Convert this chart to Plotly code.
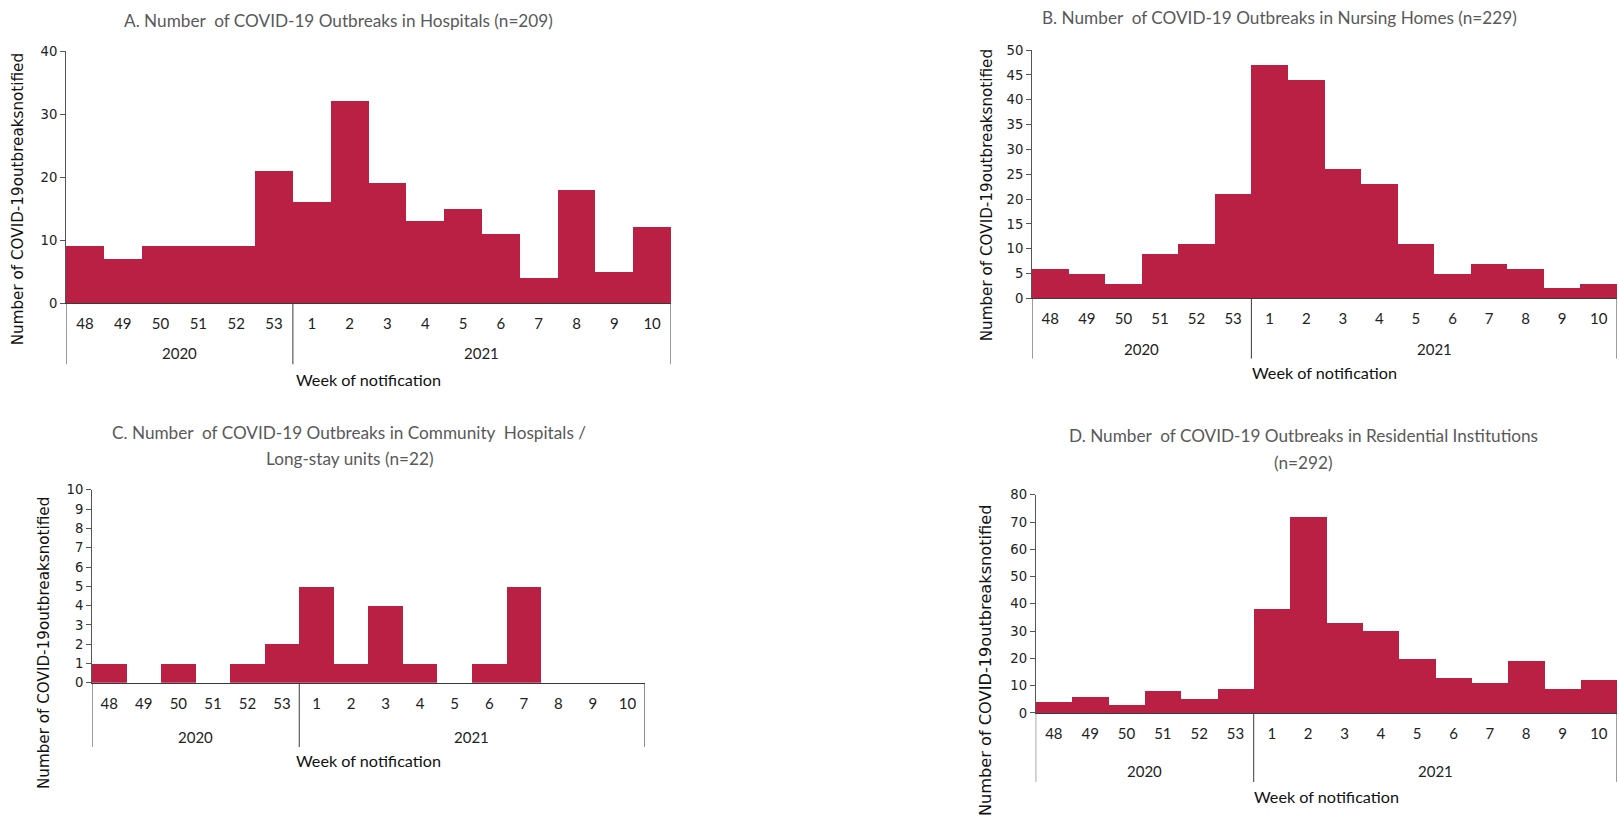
import plotly.graph_objects as go

# ---------------- data ----------------
weeks = ["48", "49", "50", "51", "52", "53", "1", "2", "3", "4", "5", "6", "7", "8", "9", "10"]
years = ["2020"] * 6 + ["2021"] * 10

hospitals = [9, 7, 9, 9, 9, 21, 16, 32, 19, 13, 15, 11, 4, 18, 5, 12]
nursing_homes = [6, 5, 3, 9, 11, 21, 47, 44, 26, 23, 11, 5, 7, 6, 2, 3]
community_hospitals = [1, 0, 1, 0, 1, 2, 5, 1, 4, 1, 0, 1, 5, 0, 0, 0]
residential = [4, 6, 3, 8, 5, 9, 38, 72, 33, 30, 20, 13, 11, 19, 9, 12]

titles = [
    ["A. Number  of COVID-19 Outbreaks in Hospitals (n=209)"],
    ["B. Number  of COVID-19 Outbreaks in Nursing Homes (n=229)"],
    ["C. Number  of COVID-19 Outbreaks in Community  Hospitals /", "Long-stay units (n=22)"],
    ["D. Number  of COVID-19 Outbreaks in Residential Institutions", "(n=292)"],
]
y_title = "Number of COVID-19outbreaksnotified"
x_title = "Week of notification"

# ---------------- layout geometry (pixels) ----------------
W, H = 1619, 818
BAR = "#B92044"


def cy(t):
    # vertical pixel position as measured -> layout pixel
    return (t - 8) / 0.98


def py(t):
    return 1 - cy(t) / H


panels = [
    dict(vals=hospitals, box=(66, 671, 52, 303.7), ymax=40, dtick=10,
         title_xy=(338, [21]), ytitle=(18, 200, 15.2),
         offs=(61, 50, 76)),
    dict(vals=nursing_homes, box=(1032, 1617, 51, 299), ymax=50, dtick=5,
         title_xy=(1279, [18]), ytitle=(987, 196, 15.2),
         offs=(60, 50, 74)),
    dict(vals=community_hospitals, box=(92, 644.7, 490, 682.7), ymax=10, dtick=1,
         title_xy=(349, [433, 459]), ytitle=(44, 643, 15.2),
         offs=(64, 54, 78)),
    dict(vals=residential, box=(1035.7, 1617, 495, 712.7), ymax=80, dtick=10,
         title_xy=(1303, [436, 463]), ytitle=(985, 660, 16.2),
         offs=(69, 58, 83)),
]

fig = go.Figure()
annotations = []
shapes = []

n = len(weeks)
idx = list(range(n))

# year groups (first and last index of each year)
year_groups = []
for i, y in enumerate(years):
    if not year_groups or year_groups[-1][0] != y:
        year_groups.append([y, i, i])
    else:
        year_groups[-1][2] = i

for k, p in enumerate(panels):
    sfx = "" if k == 0 else str(k + 1)
    x0, x1, yt, yb = p["box"]

    fig.add_trace(go.Bar(
        x=idx, y=p["vals"], width=1.0, marker_color=BAR,
        marker_line_width=0, xaxis="x" + sfx, yaxis="y" + sfx,
        showlegend=False,
    ))

    fig.layout["xaxis" + sfx] = dict(
        domain=[x0 / W, x1 / W], range=[-0.5, n - 0.5], anchor="y" + sfx,
        tickmode="array", tickvals=idx, ticktext=weeks, ticks="",
        showgrid=False, zeroline=False, showline=True, linecolor="#3a3a3a", linewidth=1,
        tickfont=dict(family="Lato", size=15, color="#222"), ticklabelstandoff=7,
        fixedrange=True,
    )
    fig.layout["yaxis" + sfx] = dict(
        domain=[py(yb), py(yt)], range=[0, p["ymax"]], anchor="x" + sfx,
        dtick=p["dtick"], tick0=0, ticks="outside", ticklen=5, tickcolor="#555",
        showgrid=False, zeroline=False, showline=True, linecolor="#555", linewidth=1,
        tickfont=dict(family="DejaVu Sans", size=13.2, color="#222"),
        fixedrange=True,
    )

    line_off, year_off, title_off = p["offs"]
    # divider lines at the year boundaries
    bounds = [year_groups[0][1] - 0.5] + [g[2] + 0.5 for g in year_groups]
    for b in bounds:
        shapes.append(dict(type="line", xref="x" + sfx, yref="paper",
                           x0=b, x1=b, y0=py(yb), y1=py(yb + line_off),
                           line=dict(color="#3a3a3a", width=1)))
    # year labels
    for yname, i0, i1 in year_groups:
        annotations.append(dict(text=yname, xref="x" + sfx, yref="paper",
                                x=(i0 + i1) / 2, y=py(yb + year_off),
                                showarrow=False, yanchor="middle",
                                font=dict(family="Lato", size=15, color="#222")))
    # x title
    annotations.append(dict(text=x_title, xref="x" + sfx, yref="paper",
                            x=(n - 1) / 2, y=py(yb + title_off),
                            showarrow=False, yanchor="middle",
                            font=dict(family="Lato", size=16.2, color="#111")))
    # y title
    tx, ty, fs = p["ytitle"]
    annotations.append(dict(text=y_title, xref="paper", yref="paper",
                            x=tx / W, y=py(ty), textangle=-90,
                            showarrow=False, xanchor="center", yanchor="middle",
                            font=dict(family="DejaVu Sans", size=fs, color="#111")))
    # panel titles
    cx, ys = p["title_xy"]
    for line, ypx in zip(titles[k], ys):
        annotations.append(dict(text=line, xref="paper", yref="paper",
                                x=cx / W, y=py(ypx),
                                showarrow=False, xanchor="center", yanchor="middle",
                                font=dict(family="Lato", size=17.2, color="#595959")))

fig.update_layout(
    width=W, height=H, margin=dict(l=0, r=0, t=0, b=0),
    paper_bgcolor="white", plot_bgcolor="white",
    bargap=0, annotations=annotations, shapes=shapes,
)

fig.write_html(
    "out.html",
    config={"displayModeBar": False},
    post_script="document.documentElement.style.margin='0';"
                "document.body.style.margin='0';"
                "document.body.style.overflow='hidden';",
)
